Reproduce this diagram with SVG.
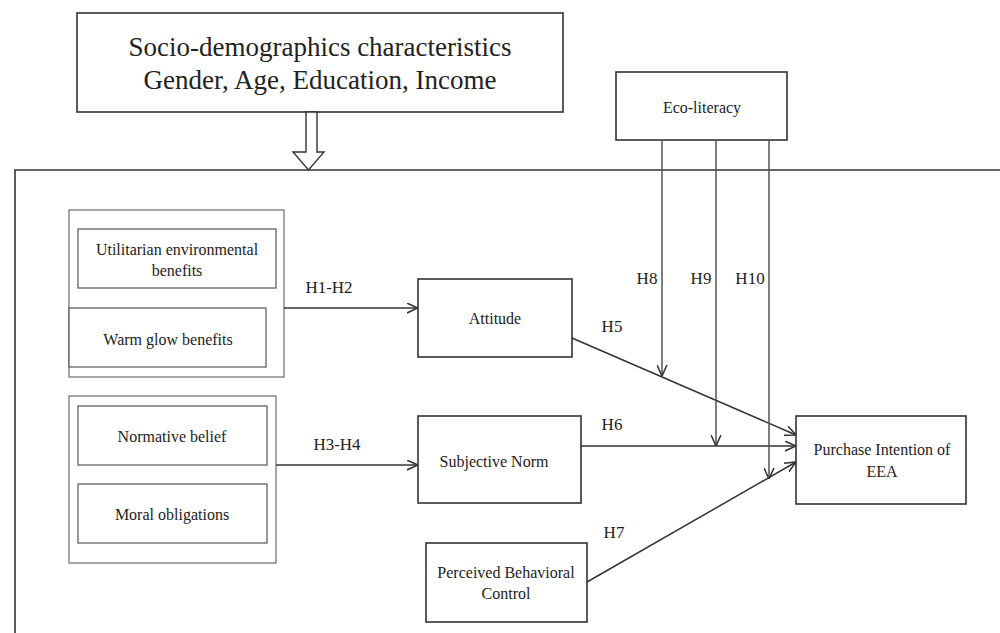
<svg xmlns="http://www.w3.org/2000/svg" width="1000" height="633" viewBox="0 0 1000 633">
<style>
text{font-family:"Liberation Serif","Times New Roman",serif;fill:#222;text-anchor:middle}
.box{fill:#fff;stroke:#333;stroke-width:1.6}
.grp{fill:none;stroke:#777;stroke-width:1.3}
.inner{fill:#fff;stroke:#555;stroke-width:1.2}
.ln{fill:none;stroke:#333;stroke-width:1.5}
.vl{fill:none;stroke:#555;stroke-width:1.5}
.t16{font-size:16px}
.lab{font-size:17px}
.big{font-size:27px}
</style>
<defs>
<marker id="arr" viewBox="0 0 10 10" refX="10" refY="5" markerWidth="11" markerHeight="11" markerUnits="userSpaceOnUse" orient="auto">
<path d="M0,0.5 L10,5 L0,9.5" fill="none" stroke="#333" stroke-width="1.4"/>
</marker>
</defs>
<rect width="1000" height="633" fill="#fff"/>
<path id="frame" d="M15,645 L15,170 L1005,170" fill="none" stroke="#333" stroke-width="1.6"/>
<g id="socio">
<rect class="box" x="77" y="13" width="486" height="99"/>
<text class="big" x="320" y="56">Socio-demographics characteristics</text>
<text class="big" x="320" y="89">Gender, Age, Education, Income</text>
</g>
<g id="eco">
<rect class="box" x="616" y="72" width="171" height="68"/>
<text class="t16" x="702" y="113">Eco-literacy</text>
</g>
<g id="group1">
<rect class="grp" x="69" y="210" width="215" height="167"/>
<g id="utilitarian">
<rect class="inner" x="78" y="229" width="198" height="59"/>
<text class="t16" x="177" y="255">Utilitarian environmental</text>
<text class="t16" x="177" y="276">benefits</text>
</g>
<g id="warmglow">
<rect class="inner" x="69" y="308" width="197" height="59"/>
<text class="t16" x="168" y="345">Warm glow benefits</text>
</g>
</g>
<g id="group2">
<rect class="grp" x="69" y="396" width="207" height="167"/>
<g id="normative">
<rect class="inner" x="78" y="406" width="189" height="59"/>
<text class="t16" x="172" y="442">Normative belief</text>
</g>
<g id="moral">
<rect class="inner" x="78" y="484" width="189" height="59"/>
<text class="t16" x="172" y="520">Moral obligations</text>
</g>
</g>
<g id="attitude">
<rect class="box" x="418" y="279" width="154" height="78"/>
<text class="t16" x="495" y="324">Attitude</text>
</g>
<g id="subjective">
<rect class="box" x="418" y="416" width="163" height="87"/>
<text class="t16" x="494" y="467">Subjective Norm</text>
</g>
<g id="pbc">
<rect class="box" x="426" y="543" width="161" height="79"/>
<text class="t16" x="506" y="578">Perceived Behavioral</text>
<text class="t16" x="506" y="599">Control</text>
</g>
<g id="purchase">
<rect class="box" x="796" y="416" width="170" height="88"/>
<text class="t16" x="882" y="455">Purchase Intention of</text>
<text class="t16" x="882" y="477">EEA</text>
</g>
<g id="connectors">
<polygon points="306,112 317,112 317,152 324,152 308.5,170 293,152 306,152" fill="#fff" stroke="#333" stroke-width="1.4"/>
<path class="ln" d="M284,308 L418,308" marker-end="url(#arr)"/>
<path class="ln" d="M276,465 L418,465" marker-end="url(#arr)"/>
<path class="ln" d="M572,338 L796,435" marker-end="url(#arr)"/>
<path class="ln" d="M581,446 L796,446" marker-end="url(#arr)"/>
<path class="ln" d="M587,582 L796,462" marker-end="url(#arr)"/>
<path class="vl" d="M662,140 L662,376" marker-end="url(#arr)"/>
<path class="vl" d="M716,140 L716,446" marker-end="url(#arr)"/>
<path class="vl" d="M769,140 L769,479" marker-end="url(#arr)"/>
</g>
<g id="labels">
<text class="lab" x="329" y="293">H1-H2</text>
<text class="lab" x="337" y="450">H3-H4</text>
<text class="lab" x="612" y="332">H5</text>
<text class="lab" x="612" y="430">H6</text>
<text class="lab" x="614" y="538">H7</text>
<text class="lab" x="647" y="284">H8</text>
<text class="lab" x="701" y="284">H9</text>
<text class="lab" x="750" y="284">H10</text>
</g>
</svg>
